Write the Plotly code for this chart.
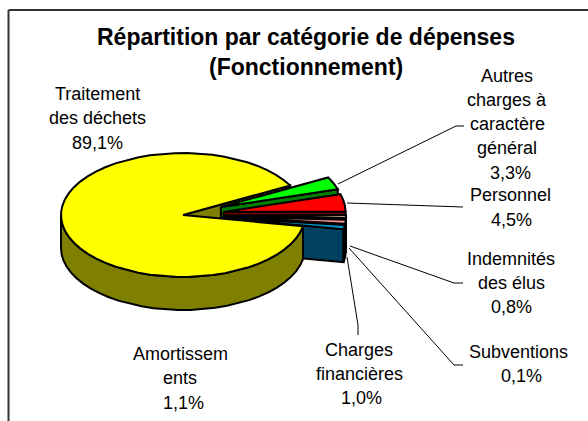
import numpy as np
import plotly.graph_objects as go

# ---- data ----
categories = ["Traitement des déchets", "Autres charges à caractère général", "Personnel",
              "Indemnités des élus", "Subventions", "Charges financières", "Amortissements"]
values = [89.1, 3.3, 4.5, 0.8, 0.1, 1.0, 1.1]
value_labels = ["89,1%", "3,3%", "4,5%", "0,8%", "0,1%", "1,0%", "1,1%"]
top_colors = ["#FFFF00", "#00FF00", "#FF0000", "#FFFFCC", "#000000", "#FF9999", "#0099CC"]
side_colors = ["#808000", "#007F00", "#7F0000", "#7F7F66", "#000000", "#7F4C4C", "#004060"]

# ---- pie geometry (pixels of the page) ----
CX, CY, A, B, DEPTH = 183, 215, 122, 62, 33
EXPLODE = 41
START = 28.5

W, H = 588, 421
fig = go.Figure()


def pt(theta, ox, oy):
    t = np.radians(theta)
    return ox + A * np.cos(t), oy - B * np.sin(t)


def poly(xs, ys, color, name):
    fig.add_trace(go.Scatter(x=xs, y=ys, mode="lines", fill="toself", fillcolor=color,
                             line=dict(color="black", width=2), hoverinfo="name", name=name,
                             showlegend=False))


def arc(t0, t1):
    return np.linspace(t0, t1, max(3, int(abs(t1 - t0) / 6) + 2))


def sector(t0, t1, ox, oy, color, name):
    x, y = pt(arc(t0, t1), ox, oy)
    poly(np.r_[ox, x, ox], np.r_[oy, y, oy], color, name)


def radial_wall(theta, ox, oy, color, name):
    x, y = pt(theta, ox, oy)
    poly([ox, x, x, ox, ox], [oy, y, y + DEPTH, oy + DEPTH, oy], color, name)


def outer_wall(t0, t1, ox, oy, color, name):
    x, y = pt(arc(t0, t1), ox, oy)
    poly(np.r_[x, x[::-1], x[0]], np.r_[y, y[::-1] + DEPTH, y[0]], color, name)


spans = np.array(values) / sum(values) * 360
y_start, y_end = START, START + spans[0]

radial_wall(y_start, CX, CY, side_colors[0], categories[0])

hi = START
for i in range(1, len(values)):
    lo = hi - spans[i]
    mid = np.radians((hi + lo) / 2)
    ox = CX + EXPLODE * np.cos(mid)
    oy = CY - EXPLODE * (B / A) * np.sin(mid)
    radial_wall(lo, ox, oy, side_colors[i], categories[i])
    if lo < 0:
        outer_wall(min(hi, 0), lo, ox, oy, side_colors[i], categories[i])
    sector(hi, lo, ox, oy, top_colors[i], categories[i])
    hi = lo

outer_wall(180, y_end, CX, CY, side_colors[0], categories[0])
sector(y_start, y_end, CX, CY, top_colors[0], categories[0])

# leader lines
leaders = [
    ([338, 456, 464], [184, 126, 126]),
    ([347, 454, 463], [203, 207, 207]),
    ([350, 454, 463], [246, 283, 283]),
    ([349, 454, 463], [248, 365, 365]),
    ([347, 358, 358], [257, 325, 335]),
]
for lx, ly in leaders:
    fig.add_trace(go.Scatter(x=lx, y=ly, mode="lines", line=dict(color="black", width=1),
                             hoverinfo="skip", showlegend=False))

title_lines = [("Répartition par catégorie de dépenses", 306, 37), ("(Fonctionnement)", 306, 67)]
label_lines = [
    ("Traitement", 97.5, 94), ("des déchets", 97.5, 118), (value_labels[0], 97.5, 143),
    ("Autres", 507, 76), ("charges à", 507, 100), ("caractère", 507, 124), ("général", 507, 148), (value_labels[1], 510, 173),
    ("Personnel", 510, 195), (value_labels[2], 511, 220),
    ("Indemnités", 511, 259), ("des élus", 511, 283), (value_labels[3], 511, 307),
    ("Subventions", 518, 352), (value_labels[4], 521, 376),
    ("Charges", 359, 350), ("financières", 359, 374), (value_labels[5], 361, 398),
    ("Amortissem", 180, 354), ("ents", 180, 378), (value_labels[6], 183, 403),
]
anns = []
for t, x, y in title_lines:
    anns.append(dict(text=f"<b>{t}</b>", x=x, y=y, showarrow=False,
                     font=dict(family="Liberation Sans", size=23, color="black")))
for t, x, y in label_lines:
    anns.append(dict(text=t, x=x, y=y, showarrow=False,
                     font=dict(family="Liberation Sans", size=18, color="black")))

frame = dict(type="line", xref="paper", yref="paper", line=dict(color="#333333", width=2))
fig.update_layout(
    width=W, height=H, margin=dict(l=0, r=0, t=0, b=0),
    paper_bgcolor="white", plot_bgcolor="white", showlegend=False,
    xaxis=dict(range=[0, W], visible=False, fixedrange=True),
    yaxis=dict(range=[H, 0], visible=False, fixedrange=True),
    annotations=anns,
    shapes=[
        dict(frame, x0=8.5 / W, x1=8.5 / W, y0=0, y1=1 - 10 / H),
        dict(frame, x0=8.5 / W, x1=1, y0=1 - 10 / H, y1=1 - 10 / H),
    ],
)
fig.write_html("out.html", config={"displayModeBar": False},
               post_script="document.body.style.margin='0';document.body.style.overflow='hidden';")
